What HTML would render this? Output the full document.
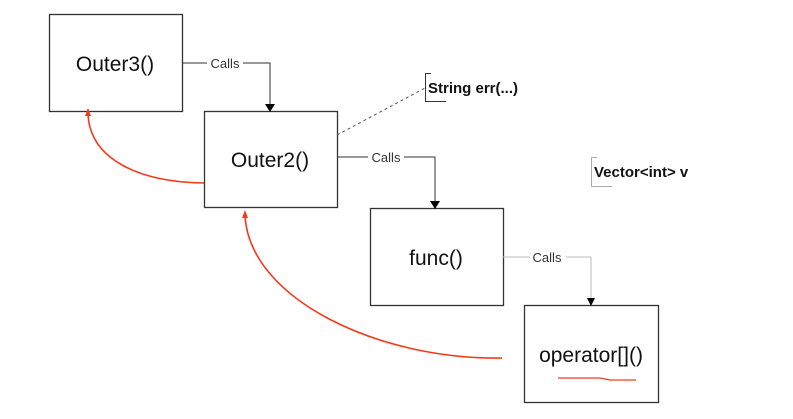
<!DOCTYPE html>
<html><head><style>
body{margin:0;background:#fff;}
svg{display:block;font-family:"Liberation Sans",sans-serif;}
</style></head><body>
<svg width="793" height="419" viewBox="0 0 793 419">
<g fill="#fff" stroke="#333" stroke-width="1.3">
<rect x="49.5" y="14.5" width="133" height="97"/>
<rect x="204.5" y="111.5" width="133" height="96"/>
<rect x="370.5" y="208.5" width="133" height="97"/>
<rect x="524.5" y="305.5" width="134" height="97"/>
</g>
<g font-size="21" fill="#111" text-anchor="middle">
<text x="115" y="71">Outer3()</text>
<text x="270" y="167">Outer2()</text>
<text x="436" y="265">func()</text>
<text x="591" y="362">operator[]()</text>
</g>
<g fill="none" stroke="#333" stroke-width="1">
<path d="M182,63 H207 M243,63 H270 V104"/>
<path d="M337,157 H368 M404,157 H435 V201"/>
<path d="M503,257 H530 M566,257 H591 V298" stroke="#bbb"/>
<path d="M337,135 L425,88" stroke-dasharray="3,3" stroke="#555"/>
<path d="M431,73.5 H425.5 V101.5 H446" />
<path d="M597,157.5 H591.5 V186.5 H612" stroke="#aaa"/>
</g>
<path d="M265,104 H275 L270,112z" fill="#000"/>
<path d="M430,201 H440 L435,209z" fill="#000"/>
<path d="M587,298 H595 L591,306z" fill="#000"/>
<g font-size="13" fill="#333" text-anchor="middle">
<text x="225" y="68">Calls</text>
<text x="386" y="162">Calls</text>
<text x="547" y="262">Calls</text>
</g>
<g font-size="15" font-weight="bold" fill="#111">
<text x="428" y="93">String err(...)</text>
<text x="594" y="177">Vector&lt;int&gt; v</text>
</g>
<g fill="none" stroke="#f53a1a" stroke-width="1.6">
<path d="M204,183 C140,182 90,160 88,114"/>
<path d="M502,358 C380,360 250,300 245,216"/>
<path d="M558,378 H600 L610,380 H636" stroke-width="1.2"/>
</g>
<path d="M88,108 L85,116 L91,116z" fill="#f53a1a"/>
<path d="M245,210 L242,218 L248,218z" fill="#f53a1a"/>
</svg>
</body></html>
